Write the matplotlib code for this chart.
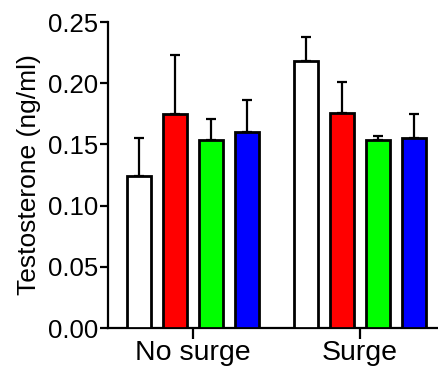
import numpy as np
import matplotlib.pyplot as plt

plt.rcParams['font.family'] = ['Liberation Sans', 'DejaVu Sans']

# data
groups = ['No surge', 'Surge']
colors = ['white', '#ff0000', '#00ff00', '#0000ff']
means = [
    [0.124, 0.218],   # white
    [0.1746, 0.1754], # red
    [0.1539, 0.1533], # green
    [0.1601, 0.1550], # blue
]
sems = [
    [0.0316, 0.0196],
    [0.0487, 0.0256],
    [0.0169, 0.0036],
    [0.0262, 0.0198],
]

fig = plt.figure(figsize=(4.39, 3.72), dpi=100)
ax = fig.add_axes([108 / 439, 44 / 372, 1 - 108 / 439, (328 - 22) / 372])

x = np.arange(len(groups))
pitch = 0.215
width = 0.145
for i in range(4):
    pos = x + (i - 1.5) * pitch
    m = np.array(means[i])
    e = np.array(sems[i])
    ax.errorbar(pos, m, yerr=[np.zeros_like(e), e], fmt='none', ecolor='black',
                elinewidth=1.6, capsize=3.3, capthick=1.6, zorder=2)
    ax.bar(pos, m, width, color=colors[i], edgecolor='black', linewidth=2.0, zorder=3)

ax.set_xlim(-0.506, 1.472)
ax.set_ylim(0, 0.25)
ax.set_yticks([0, 0.05, 0.10, 0.15, 0.20, 0.25])
ax.set_yticklabels(['0.00', '0.05', '0.10', '0.15', '0.20', '0.25'])
ax.set_xticks(x)
ax.set_xticklabels(groups)
ax.set_ylabel('Testosterone (ng/ml)', fontsize=19, labelpad=5)

for s in ['top', 'right']:
    ax.spines[s].set_visible(False)
for s in ['left', 'bottom']:
    ax.spines[s].set_linewidth(1.6)
ax.tick_params(axis='y', labelsize=18.5, width=1.6, length=6, pad=1)
ax.tick_params(axis='x', labelsize=20.5, width=1.6, length=8, pad=1)

fig.savefig('out.png', dpi=100)
